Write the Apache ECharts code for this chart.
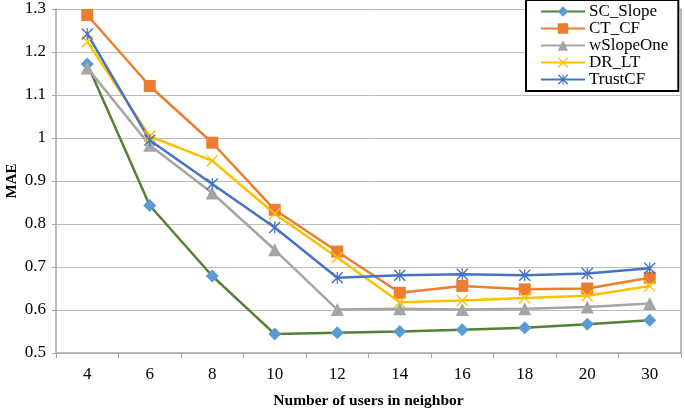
<!DOCTYPE html>
<html>
<head>
<meta charset="utf-8">
<script src="https://cdn.jsdelivr.net/npm/echarts@6/dist/echarts.min.js"></script>
<style>
html,body{margin:0;padding:0;background:#fff;}
#chart{width:685px;height:411px;}
</style>
</head>
<body>
<div id="chart"></div>
<script>
var categories = ['4','6','8','10','12','14','16','18','20','30'];
var scSlope   = [1.172, 0.843, 0.679, 0.544, 0.547, 0.550, 0.554, 0.559, 0.567, 0.576];
var ctCF      = [1.286, 1.121, 0.989, 0.833, 0.736, 0.640, 0.656, 0.648, 0.650, 0.675];
var wSlopeOne = [1.163, 0.983, 0.872, 0.740, 0.601, 0.603, 0.601, 0.603, 0.607, 0.615];
var drLT      = [1.224, 1.004, 0.947, 0.824, 0.722, 0.618, 0.622, 0.628, 0.633, 0.656];
var trustCF   = [1.242, 0.995, 0.893, 0.792, 0.675, 0.681, 0.683, 0.681, 0.685, 0.697];
var seriesNames = ['SC_Slope','CT_CF','wSlopeOne','DR_LT','TrustCF'];

var FONT = '"Liberation Serif", "Times New Roman", serif';
var xPath = 'path://M0,1.7L1.7,0L10,8.3L18.3,0L20,1.7L11.7,10L20,18.3L18.3,20L10,11.7L1.7,20L0,18.3L8.3,10Z';
var starPath = 'path://M0,1.7L1.7,0L10,8.3L18.3,0L20,1.7L11.7,10L20,18.3L18.3,20L10,11.7L1.7,20L0,18.3L8.3,10Z M9,0L11,0L11,20L9,20Z';

function mk(name, data, lineColor, markColor, symbol, size) {
  return {
    name: name, type: 'line', data: data,
    symbol: symbol, symbolSize: size,
    lineStyle: {color: lineColor, width: 2.5},
    itemStyle: {color: markColor},
    emphasis: {disabled: true},
    animation: false
  };
}

var chart = echarts.init(document.getElementById('chart'), null, {renderer: 'canvas'});
chart.setOption({
  backgroundColor: '#fff',
  animation: false,
  grid: {left: 56, right: 4, top: 9, bottom: 58, containLabel: false, outerBoundsMode: 'none'},
  legend: {
    orient: 'vertical', left: 526, top: 0,
    padding: [3, 10, 3, 14],
    borderColor: '#000', borderWidth: 2,
    backgroundColor: '#fff',
    itemWidth: 44, itemHeight: 13, itemGap: 0,
    textStyle: {fontFamily: FONT, fontSize: 17, color: '#000', lineHeight: 17, padding: [0,0,0,-1]},
    data: seriesNames
  },
  xAxis: {
    type: 'category', data: categories, boundaryGap: true,
    name: 'Number of users in neighbor', nameLocation: 'middle', nameGap: 40,
    nameMoveOverlap: false,
    nameTextStyle: {fontFamily: FONT, fontSize: 15.5, fontWeight: 'bold', color: '#000'},
    axisLine: {lineStyle: {color: '#A6A6A6', width: 1.5}},
    axisTick: {show: true, alignWithLabel: false, length: 5, lineStyle: {color: '#A6A6A6'}},
    axisLabel: {fontFamily: FONT, fontSize: 17, color: '#000', margin: 13},
    splitLine: {show: false}
  },
  yAxis: [{
    type: 'value', min: 0.5, max: 1.3, interval: 0.1,
    name: 'MAE', nameLocation: 'middle', nameGap: 36, nameRotate: 90,
    nameMoveOverlap: false,
    nameTextStyle: {fontFamily: FONT, fontSize: 15, fontWeight: 'bold', color: '#000'},
    axisLine: {show: true, lineStyle: {color: '#A6A6A6', width: 1.5}},
    axisTick: {show: true, length: 4, lineStyle: {color: '#A6A6A6'}},
    axisLabel: {fontFamily: FONT, fontSize: 17, color: '#000', margin: 10,
      formatter: function(v){ return String(parseFloat(v.toFixed(1))); }},
    splitLine: {show: true, lineStyle: {color: '#BDBDBD', width: 1}}
  }, {
    type: 'value', min: 0.5, max: 1.3, interval: 0.1, position: 'right',
    axisLine: {show: true, lineStyle: {color: '#A6A6A6', width: 1.5}},
    axisTick: {show: false}, axisLabel: {show: false}, splitLine: {show: false}
  }],
  series: [
    mk('SC_Slope', scSlope, '#548235', '#5B9BD5', 'diamond', 13),
    mk('CT_CF', ctCF, '#ED7D31', '#ED7D31', 'rect', 12),
    mk('wSlopeOne', wSlopeOne, '#A5A5A5', '#A5A5A5', 'triangle', 13),
    mk('DR_LT', drLT, '#FFC000', '#FFC000', xPath, 12),
    mk('TrustCF', trustCF, '#4472C4', '#4472C4', starPath, 12)
  ]
});
</script>
</body>
</html>
